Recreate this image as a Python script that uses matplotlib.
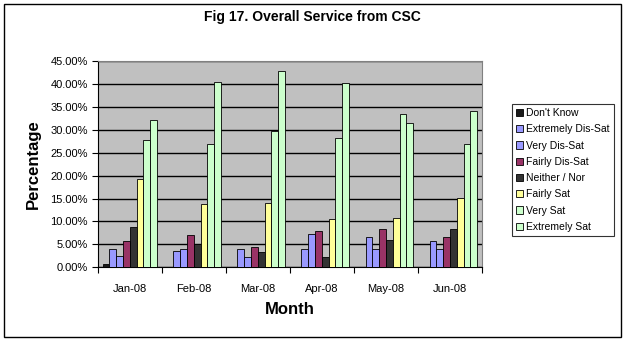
import matplotlib
matplotlib.use("Agg")
import matplotlib.pyplot as plt
import numpy as np
from matplotlib.patches import Rectangle

plt.rcParams['font.family'] = ['Liberation Sans', 'DejaVu Sans']

months = ["Jan-08", "Feb-08", "Mar-08", "Apr-08", "May-08", "Jun-08"]
series = ["Don't Know", "Extremely Dis-Sat", "Very Dis-Sat", "Fairly Dis-Sat",
          "Neither / Nor", "Fairly Sat", "Very Sat", "Extremely Sat"]
dont_know = [0.65, 0.0, 0.0, 0.0, 0.0, 0.0]
extremely_dis = [3.9, 3.5, 3.9, 4.1, 6.55, 5.7]
very_dis = [2.4, 3.9, 2.2, 7.2, 3.9, 4.1]
fairly_dis = [5.7, 7.0, 4.4, 7.9, 8.3, 6.55]
neither = [8.7, 5.0, 3.3, 2.2, 5.9, 8.3]
fairly_sat = [19.2, 13.8, 14.0, 10.5, 10.7, 15.1]
very_sat = [27.7, 26.8, 29.7, 28.2, 33.4, 26.9]
extremely_sat = [32.1, 40.4, 42.8, 40.2, 31.4, 34.1]
values = [dont_know, extremely_dis, very_dis, fairly_dis, neither,
          fairly_sat, very_sat, extremely_sat]
colors = ["#1a1a1a", "#9999FF", "#9999FF", "#993366", "#333333",
          "#FFFF99", "#CCFFCC", "#CCFFCC"]

fig = plt.figure(figsize=(6.27, 3.41), dpi=100)
ax = fig.add_axes([97.7/627, 1-267.3/341, (482-97.7)/627, (267.3-61)/341])
ax.set_facecolor("#C0C0C0")

n = len(series)
w = 0.85 / n
x = np.arange(len(months))
for i, (name, vals, c) in enumerate(zip(series, values, colors)):
    ax.bar(x - 0.425 + w*(i+0.5), vals, width=w, color=c, edgecolor="black",
           linewidth=0.6, label=name, zorder=3)

ax.set_xlim(-0.5, len(months)-0.5)
ax.set_ylim(0, 45)
yt = np.arange(0, 46, 5)
ax.set_yticks(yt)
ax.set_yticklabels([f"{v:.2f}%" for v in yt], fontsize=8)
ax.yaxis.grid(True, color="black", linewidth=1, zorder=1)
ax.set_axisbelow(True)
ax.set_xticks(x)
ax.set_xticklabels(months, fontsize=8)
ax.set_xticks(np.arange(-0.5, len(months)), minor=True)
ax.tick_params(axis='x', which='major', length=0, pad=12)
ax.tick_params(axis='x', which='minor', length=4, direction='out', width=0.8)
ax.tick_params(axis='y', length=4, direction='out', width=0.8, pad=3)
for s in ['top', 'right']:
    ax.spines[s].set_color("#808080")
for s in ['left', 'bottom']:
    ax.spines[s].set_color("black")

ax.set_ylabel("Percentage", fontsize=12, fontweight='bold', labelpad=7)
ax.set_xlabel("Month", fontsize=12, fontweight='bold', labelpad=6)
fig.text(0.5*(4+621)/627, 1-17/341, "Fig 17. Overall Service from CSC",
         ha='center', va='center', fontsize=10, fontweight='bold')

leg = fig.legend(loc='upper left', bbox_to_anchor=(512/627, 1-104/341),
                 fontsize=7.5, frameon=True, fancybox=False, handlelength=0.7,
                 handleheight=0.7, handletextpad=0.25, labelspacing=0.6,
                 borderpad=0.4, borderaxespad=0)
leg.get_frame().set_edgecolor("black")
leg.get_frame().set_linewidth(0.8)

fig.patches.append(Rectangle((4/627, 4/341), 617/627, 333/341, transform=fig.transFigure,
                             fill=False, edgecolor="black", linewidth=1))

fig.savefig("out.png", dpi=100, facecolor="white")
